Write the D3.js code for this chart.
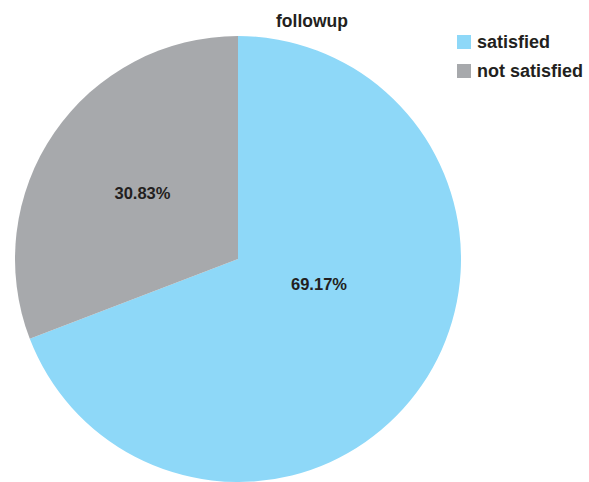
<!DOCTYPE html>
<html>
<head>
<meta charset="utf-8">
<script src="https://cdn.jsdelivr.net/npm/d3@7/dist/d3.min.js"></script>
<style>
  html, body { margin: 0; padding: 0; background: #ffffff; }
  svg { display: block; }
  text { font-family: "Liberation Sans", Arial, Helvetica, sans-serif; font-weight: bold; fill: #231f20; }
</style>
</head>
<body>
<svg id="chart" width="589" height="482"></svg>
<script>
// Response shares for the follow-up survey
const categories = ["satisfied", "not satisfied"];
const shares = [69.17, 30.83];
const sliceLabels = ["69.17%", "30.83%"];
const chartTitle = "followup";

const width = 589, height = 482;
const cx = 238, cy = 259, radius = 223;

const color = d3.scaleOrdinal()
  .domain(categories)
  .range(["#8ed8f8", "#a7a9ac"]);

const svg = d3.select("#chart");

const pie = d3.pie().sort(null).value(d => d.value);
const arcs = pie(categories.map((c, i) => ({ name: c, value: shares[i], label: sliceLabels[i] })));

const arc = d3.arc().innerRadius(0).outerRadius(radius);

const g = svg.append("g").attr("transform", `translate(${cx},${cy})`);

g.selectAll("path.slice")
  .data(arcs)
  .enter().append("path")
  .attr("class", "slice")
  .attr("d", arc)
  .attr("fill", d => color(d.data.name));

// Label placement: the large slice's label sits nearer the middle
function labelPos(d) {
  const span = d.endAngle - d.startAngle;
  let a, r;
  if (span > Math.PI) {
    a = d.startAngle + span * 0.43;
    r = radius * 0.38;
  } else {
    a = (d.startAngle + d.endAngle) / 2;
    r = radius * 0.52;
  }
  return [Math.sin(a) * r, -Math.cos(a) * r];
}

g.selectAll("text.pct")
  .data(arcs)
  .enter().append("text")
  .attr("class", "pct")
  .attr("x", d => labelPos(d)[0])
  .attr("y", d => labelPos(d)[1])
  .attr("text-anchor", "middle")
  .attr("dy", "0.35em")
  .style("font-size", "16.5px")
  .text(d => d.data.label);

svg.append("text")
  .attr("x", 312)
  .attr("y", 27)
  .attr("text-anchor", "middle")
  .style("font-size", "17.5px")
  .text(chartTitle);

const legend = svg.append("g").attr("transform", "translate(457,35)");
const item = legend.selectAll("g.item")
  .data(categories)
  .enter().append("g")
  .attr("class", "item")
  .attr("transform", (d, i) => `translate(0,${i * 29})`);

item.append("rect")
  .attr("width", 14)
  .attr("height", 14)
  .attr("fill", d => color(d));

item.append("text")
  .attr("x", 20)
  .attr("y", 13)
  .style("font-size", "18px")
  .text(d => d);
</script>
</body>
</html>
